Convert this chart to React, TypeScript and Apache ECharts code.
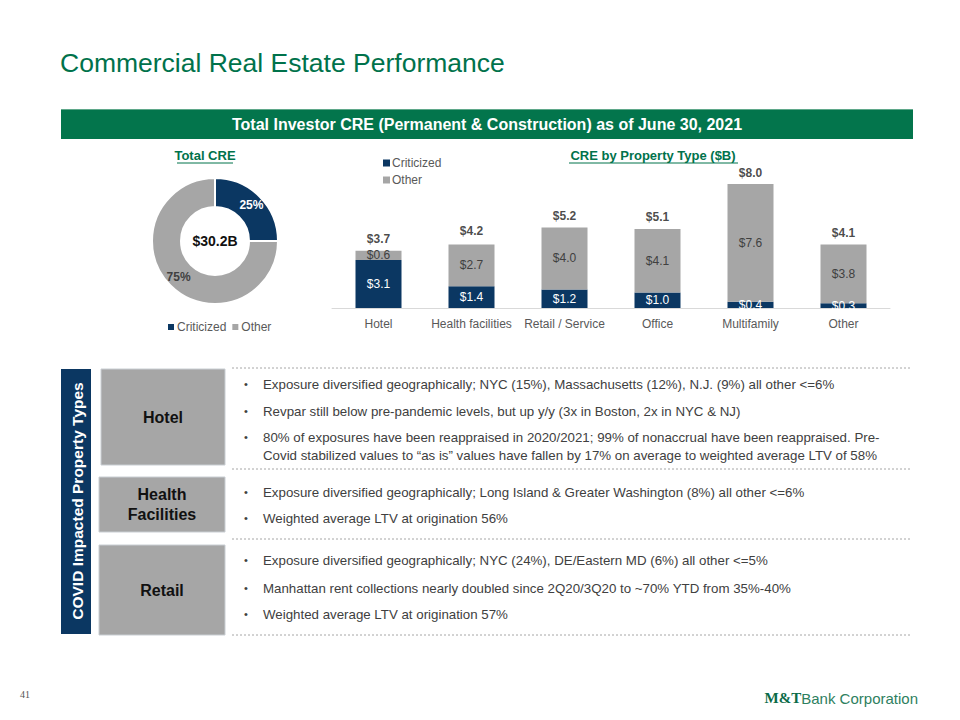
import React, { useEffect, useRef } from "react";
import * as echarts from "echarts";

const categories = ["Hotel", "Health facilities", "Retail / Service", "Office", "Multifamily", "Other"];
const criticized = [3.1, 1.4, 1.2, 1.0, 0.4, 0.3];
const other = [0.6, 2.7, 4.0, 4.1, 7.6, 3.8];
const totals = [3.7, 4.2, 5.2, 5.1, 8.0, 4.1];
const donutNames = ["Criticized", "Other"];
const donutShares = [25, 75];
const donutTotal = "$30.2B";

const hotelBullets = [
  ["Exposure diversified geographically; NYC (15%), Massachusetts (12%), N.J. (9%) all other <=6%"],
  ["Revpar still below pre-pandemic levels, but up y/y (3x in Boston, 2x in NYC & NJ)"],
  [
    "80% of exposures have been reappraised in 2020/2021; 99% of nonaccrual have been reappraised. Pre-",
    "Covid stabilized values to \u201cas is\u201d values have fallen by 17% on average to weighted average LTV of 58%",
  ],
];
const healthBullets = [
  ["Exposure diversified geographically; Long Island & Greater Washington (8%) all other <=6%"],
  ["Weighted average LTV at origination 56%"],
];
const retailBullets = [
  ["Exposure diversified geographically; NYC (24%), DE/Eastern MD (6%) all other <=5%"],
  ["Manhattan rent collections nearly doubled since 2Q20/3Q20 to ~70% YTD from 35%-40%"],
  ["Weighted average LTV at origination 57%"],
];

const NAVY = "#0B3762";
const GRAY = "#A6A6A6";
const GREEN = "#00724B";
const FONT = "'Liberation Sans', Arial, sans-serif";

function bulletElements(groups: string[][], ys: number[][]) {
  const els: any[] = [];
  groups.forEach((lines, gi) => {
    els.push({
      type: "text",
      x: 244,
      y: ys[gi][0],
      style: { text: "\u2022", fill: "#404040", font: `11px ${FONT}`, textVerticalAlign: "middle", verticalAlign: "middle" },
    });
    lines.forEach((ln, li) => {
      els.push({
        type: "text",
        x: 263,
        y: ys[gi][li],
        style: { text: ln, fill: "#404040", font: `13.3px ${FONT}`, textVerticalAlign: "middle", verticalAlign: "middle" },
      });
    });
  });
  return els;
}

function dashed(y: number) {
  return {
    type: "line",
    shape: { x1: 232, y1: y, x2: 910, y2: y },
    style: { stroke: "#A6A6A6", lineWidth: 1, lineDash: [2, 2] },
  };
}

function box(x: number, y: number, w: number, h: number, label: string) {
  return [
    {
      type: "rect",
      shape: { x, y, width: w, height: h },
      style: { fill: "#A6A6A6", stroke: "#C9CED3", lineWidth: 1 },
    },
    {
      type: "text",
      x: x + w / 2,
      y: y + h / 2,
      style: {
        text: label,
        fill: "#111111",
        font: `bold 16px ${FONT}`,
        textAlign: "center",
        align: "center",
        textVerticalAlign: "middle",
        verticalAlign: "middle",
        lineHeight: 20,
      },
    },
  ];
}

export default function App() {
  const ref = useRef<HTMLDivElement>(null);
  useEffect(() => {
    if (!ref.current) return;
    const chart = echarts.init(ref.current, undefined, { renderer: "svg" });
    const money = (p: any) => "$" + Number(p.value).toFixed(1);
    const option: any = {
      animation: false,
      textStyle: { fontFamily: FONT },
      legend: [
        {
          data: donutNames,
          left: 163,
          top: 316,
          orient: "horizontal",
          icon: "rect",
          itemWidth: 6,
          itemHeight: 6,
          itemGap: 6,
          selectedMode: false,
          textStyle: { fontSize: 12, color: "#595959", fontFamily: FONT, padding: [0, 0, 0, -2] },
        },
        {
          data: donutNames,
          left: 378,
          top: 152,
          orient: "vertical",
          icon: "rect",
          itemWidth: 7,
          itemHeight: 7,
          itemGap: 5,
          selectedMode: false,
          textStyle: { fontSize: 12, color: "#595959", fontFamily: FONT, padding: [0, 0, 0, -3] },
        },
      ],
      grid: { left: 332, right: 70, top: 168.5, bottom: 412, containLabel: false },
      xAxis: {
        type: "category",
        data: categories,
        axisLine: { lineStyle: { color: "#D9D9D9" } },
        axisTick: { show: false },
        axisLabel: { color: "#595959", fontSize: 12, margin: 10, fontFamily: FONT, interval: 0 },
      },
      yAxis: { type: "value", min: 0, max: 9, show: false, splitLine: { show: false } },
      series: [
        {
          type: "pie",
          center: [215, 241],
          radius: [34, 63],
          startAngle: 90,
          clockwise: true,
          itemStyle: { borderColor: "#ffffff", borderWidth: 2 },
          label: {
            show: true,
            position: "inside",
            formatter: (p: any) => p.value + "%",
            fontSize: 12,
            fontWeight: "bold",
            fontFamily: FONT,
          },
          labelLine: { show: false },
          data: donutNames.map((n, i) => ({
            name: n,
            value: donutShares[i],
            itemStyle: { color: i === 0 ? NAVY : GRAY },
            label: { color: i === 0 ? "#ffffff" : "#404040" },
          })),
        },
        {
          name: "Criticized",
          type: "bar",
          stack: "cre",
          barWidth: 46,
          itemStyle: { color: NAVY },
          label: { show: true, position: "inside", color: "#ffffff", fontSize: 12, formatter: money, fontFamily: FONT },
          data: criticized,
        },
        {
          name: "Other",
          type: "bar",
          stack: "cre",
          barWidth: 46,
          itemStyle: { color: GRAY },
          label: { show: true, position: "inside", color: "#404040", fontSize: 12, formatter: money, fontFamily: FONT },
          data: other,
        },
        {
          name: "Total",
          type: "scatter",
          symbolSize: 1,
          itemStyle: { color: "rgba(0,0,0,0)" },
          label: {
            show: true,
            position: "top",
            distance: 5,
            color: "#1a1a1a",
            fontSize: 12,
            fontWeight: "bold",
            formatter: money,
            fontFamily: FONT,
          },
          data: totals,
        },
      ],
      graphic: [
        {
          type: "text",
          x: 60,
          y: 63,
          style: { text: "Commercial Real Estate Performance", fill: GREEN, font: `26.5px ${FONT}`, textVerticalAlign: "middle", verticalAlign: "middle" },
        },
        { type: "rect", shape: { x: 61, y: 109, width: 852, height: 30 }, style: { fill: "#03754C" } },
        { type: "line", shape: { x1: 61, y1: 109.5, x2: 913, y2: 109.5 }, style: { stroke: "#5FA88A", lineWidth: 1 } },
        {
          type: "text",
          x: 487,
          y: 124.5,
          style: {
            text: "Total Investor CRE (Permanent & Construction) as of June 30, 2021",
            fill: "#ffffff",
            font: `bold 16px ${FONT}`,
            textAlign: "center",
            align: "center",
            textVerticalAlign: "middle",
            verticalAlign: "middle",
          },
        },
        {
          type: "text",
          x: 205,
          y: 155,
          style: { text: "Total CRE", fill: GREEN, font: `bold 13px ${FONT}`, textAlign: "center", align: "center", textVerticalAlign: "middle", verticalAlign: "middle" },
        },
        { type: "line", shape: { x1: 177, y1: 163, x2: 233, y2: 163 }, style: { stroke: GREEN, lineWidth: 1 } },
        {
          type: "text",
          x: 653,
          y: 155,
          style: { text: "CRE by Property Type ($B)", fill: GREEN, font: `bold 13px ${FONT}`, textAlign: "center", align: "center", textVerticalAlign: "middle", verticalAlign: "middle" },
        },
        { type: "line", shape: { x1: 569, y1: 163, x2: 738, y2: 163 }, style: { stroke: GREEN, lineWidth: 1 } },
        {
          type: "text",
          x: 215,
          y: 241,
          style: { text: donutTotal, fill: "#111111", font: `bold 14px ${FONT}`, textAlign: "center", align: "center", textVerticalAlign: "middle", verticalAlign: "middle" },
        },
        // lower panel
        { type: "rect", shape: { x: 61, y: 369, width: 30, height: 265 }, style: { fill: NAVY } },
        {
          type: "text",
          x: 77,
          y: 501,
          rotation: Math.PI / 2,
          style: {
            text: "COVID Impacted Property Types",
            fill: "#ffffff",
            font: `bold 15.5px ${FONT}`,
            textAlign: "center",
            align: "center",
            textVerticalAlign: "middle",
            verticalAlign: "middle",
          },
        },
        ...box(101, 369, 124, 96, "Hotel"),
        ...box(99, 477, 126, 55, "Health\nFacilities"),
        ...box(99, 545, 126, 90, "Retail"),
        dashed(368),
        dashed(469),
        dashed(539),
        dashed(635),
        ...bulletElements(hotelBullets, [[384], [411], [437, 455]]),
        ...bulletElements(healthBullets, [[492], [518]]),
        ...bulletElements(retailBullets, [[560], [588], [614]]),
        {
          type: "text",
          x: 20,
          y: 694,
          style: { text: "41", fill: "#555555", font: `10px 'Liberation Serif', serif`, textVerticalAlign: "middle", verticalAlign: "middle" },
        },
        {
          type: "text",
          x: 918,
          y: 698,
          style: {
            text: "{a|M&T}{b|Bank Corporation}",
            textAlign: "right",
            align: "right",
            textVerticalAlign: "middle",
            verticalAlign: "middle",
            rich: {
              a: { fontFamily: "'Liberation Serif', serif", fontWeight: "bold", fontSize: 15, fill: "#0B6B48" },
              b: { fontFamily: "'Liberation Sans Narrow', 'Liberation Sans', sans-serif", fontSize: 15, fill: "#2E8060" },
            },
          },
        },
      ],
    };
    chart.setOption(option);
    return () => chart.dispose();
  }, []);
  return (
    <div
      ref={ref}
      style={{ position: "absolute", left: 0, top: 0, width: 960, height: 720, background: "#ffffff" }}
    />
  );
}
